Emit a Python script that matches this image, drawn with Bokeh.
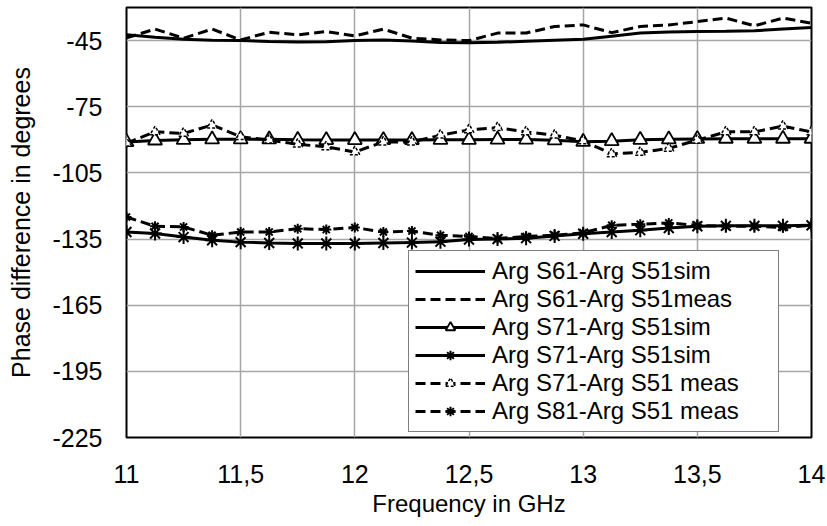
from bokeh.plotting import figure
from bokeh.models import Range1d, FixedTicker, Legend, LegendItem, CustomJSTickFormatter
from bokeh.embed import file_html
from bokeh.resources import INLINE

# ---- data ----
freq = [11.0, 11.125, 11.25, 11.375, 11.5, 11.625, 11.75, 11.875, 12.0, 12.125,
        12.25, 12.375, 12.5, 12.625, 12.75, 12.875, 13.0, 13.125, 13.25, 13.375,
        13.5, 13.625, 13.75, 13.875, 14.0]

s61_sim = [-42.4, -43.5, -44.4, -44.8, -45.0, -45.4, -45.7, -45.5, -45.0, -44.7,
           -45.2, -45.9, -46.0, -45.8, -45.3, -44.8, -44.4, -43.0, -41.6, -41.1,
           -40.9, -40.8, -40.5, -39.8, -39.1]
s61_meas = [-43.8, -39.8, -43.9, -39.8, -44.7, -41.2, -42.4, -40.9, -42.9, -39.8,
            -43.9, -44.7, -45.0, -41.6, -41.6, -38.6, -37.9, -41.4, -38.6, -37.9,
            -36.4, -34.8, -38.3, -34.8, -37.1]
s71_sim = [-91.0, -90.3, -90.0, -89.8, -89.8, -89.8, -90.0, -90.1, -90.1, -90.1,
           -90.1, -90.0, -90.0, -89.9, -89.9, -90.2, -90.9, -90.6, -90.0, -89.8,
           -89.6, -89.5, -89.5, -89.5, -89.5]
s81_sim = [-131.8, -132.5, -134.1, -135.6, -136.4, -136.8, -137.0, -137.0, -137.0, -136.8,
           -136.6, -136.2, -135.2, -135.0, -134.6, -133.6, -132.6, -131.8, -131.0, -130.0,
           -129.2, -129.0, -129.0, -129.0, -128.8]
s71_meas = [-91.5, -86.4, -87.1, -83.3, -88.6, -90.1, -92.0, -93.2, -95.5, -91.0,
            -91.0, -87.9, -85.5, -84.5, -86.4, -87.9, -90.5, -96.4, -95.7, -93.9,
            -90.1, -86.4, -86.4, -83.8, -86.4]
s81_meas = [-125.0, -129.2, -129.5, -133.3, -131.8, -131.8, -130.3, -130.7, -129.8, -131.8,
            -131.4, -133.3, -133.8, -134.8, -133.8, -133.3, -132.2, -128.8, -128.3, -127.7,
            -128.8, -129.2, -129.2, -129.8, -128.8]

labels = ["Arg S61-Arg S51sim", "Arg S61-Arg S51meas", "Arg S71-Arg S51sim",
          "Arg S71-Arg S51sim", "Arg S71-Arg S51 meas", "Arg S81-Arg S51 meas"]

x_ticks = [11, 11.5, 12, 12.5, 13, 13.5, 14]
y_ticks = [-225, -195, -165, -135, -105, -75, -45]
x_title = "Frequency in GHz"
y_title = "Phase difference in degrees"

FONT = "Liberation Sans"

p = figure(width=827, height=526, output_backend="svg", toolbar_location=None,
           x_range=Range1d(11, 14), y_range=Range1d(-225, -30),
           min_border_left=126, min_border_right=16, min_border_top=7,
           min_border_bottom=89)

p.outline_line_color = "black"
p.outline_line_width = 2
p.background_fill_color = "white"

p.xaxis.ticker = FixedTicker(ticks=x_ticks)
p.yaxis.ticker = FixedTicker(ticks=y_ticks)
p.xaxis.formatter = CustomJSTickFormatter(code="return tick.toString().replace('.', ',');")
p.yaxis.formatter = CustomJSTickFormatter(code="return tick.toString();")

for ax in (p.xaxis[0], p.yaxis[0]):
    ax.axis_line_color = None
    ax.major_tick_line_color = None
    ax.minor_tick_line_color = None
    ax.major_tick_out = 0
    ax.major_tick_in = 0
    ax.major_label_text_font = FONT
    ax.major_label_text_font_size = "25px"
    ax.major_label_text_color = "black"
    ax.axis_label_text_font = FONT
    ax.axis_label_text_font_size = "25px"
    ax.axis_label_text_font_style = "normal"
    ax.axis_label_text_color = "black"

p.xaxis.axis_label = x_title
p.xaxis.axis_label_text_font_size = "24px"
p.yaxis.axis_label = y_title
p.xaxis.major_label_standoff = 27
p.xaxis.axis_label_standoff = 4
p.yaxis.major_label_standoff = 24
p.yaxis.axis_label_standoff = 14

p.grid.grid_line_color = "#a6a6a6"
p.grid.grid_line_width = 1.5

DASH = "10 5"

r1 = p.line(freq, s61_sim, line_color="black", line_width=3)
r2 = p.line(freq, s61_meas, line_color="black", line_width=3, line_dash=DASH)
r3l = p.line(freq, s71_sim, line_color="black", line_width=3)
r3m = p.scatter(freq, s71_sim, marker="triangle", size=14, fill_color="white",
                line_color="black", line_width=1.8)
r4l = p.line(freq, s81_sim, line_color="black", line_width=3)
r4m = p.scatter(freq, s81_sim, marker="asterisk", size=14, line_color="black", line_width=2)
r5l = p.line(freq, s71_meas, line_color="black", line_width=3, line_dash=DASH)
r5m = p.scatter(freq, s71_meas, marker="triangle", size=10, fill_color="white",
                line_color="black", line_width=1.5, line_dash="3 2")
r6l = p.line(freq, s81_meas, line_color="black", line_width=3, line_dash=DASH)
r6m = p.scatter(freq, s81_meas, marker="asterisk", size=10, line_color="black", line_width=2)

items = [
    LegendItem(label=labels[0], renderers=[r1]),
    LegendItem(label=labels[1], renderers=[r2]),
    LegendItem(label=labels[2], renderers=[r3l, r3m]),
    LegendItem(label=labels[3], renderers=[r4l, r4m]),
    LegendItem(label=labels[4], renderers=[r5l, r5m]),
    LegendItem(label=labels[5], renderers=[r6l, r6m]),
]
legend = Legend(items=items, location=(282, 5), orientation="vertical",
                label_text_font=FONT, label_text_font_size="24px",
                label_text_color="black",
                glyph_width=70, glyph_height=24, label_height=24, label_width=280,
                label_standoff=7, spacing=0, padding=6, margin=0,
                border_line_color="black", border_line_width=1.5,
                background_fill_color="white", background_fill_alpha=1.0)
p.add_layout(legend)

open("out.html", "w").write(file_html(p, INLINE))
